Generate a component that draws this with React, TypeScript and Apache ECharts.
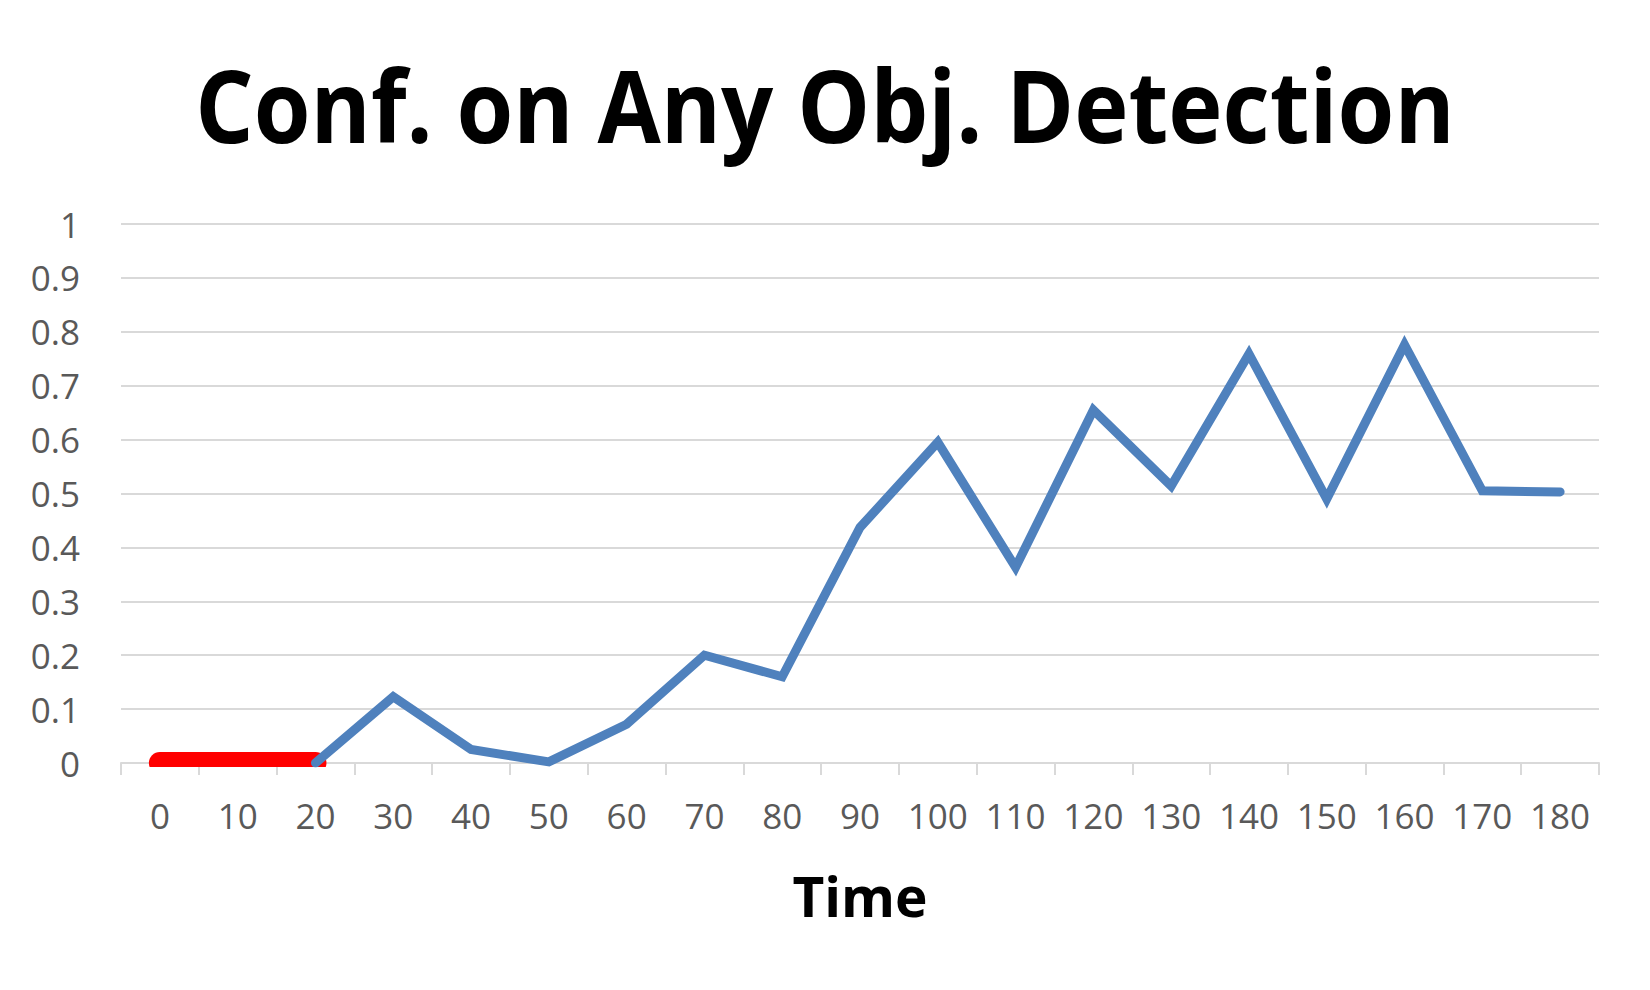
import React, { useEffect, useRef } from "react";
import * as echarts from "echarts";

const titleText = "Conf. on Any Obj. Detection";
const xAxisTitle = "Time";
const timeLabels = ["0", "10", "20", "30", "40", "50", "60", "70", "80", "90", "100", "110", "120", "130", "140", "150", "160", "170", "180"];
const redValues: (number | null)[] = [0, 0, 0, null, null, null, null, null, null, null, null, null, null, null, null, null, null, null, null];
const blueValues: (number | null)[] = [null, null, 0, 0.123, 0.025, 0.002, 0.072, 0.2, 0.16, 0.437, 0.595, 0.363, 0.655, 0.514, 0.759, 0.49, 0.776, 0.505, 0.503];

export default function App() {
  const ref = useRef<HTMLDivElement>(null);
  useEffect(() => {
    document.body.style.margin = "0";
    const chart = echarts.init(ref.current!, null, { renderer: "svg" });
    const font = "'Open Sans', sans-serif";
    chart.setOption({
      animation: false,
      backgroundColor: "#ffffff",
      graphic: [
        {
          type: "text",
          x: 825,
          y: 104,
          scaleX: 0.918,
          originX: 0,
          originY: 0,
          style: {
            text: titleText,
            fontFamily: font,
            fontWeight: "bold",
            fontSize: 100,
            fill: "#000000",
            align: "center",
            verticalAlign: "middle",
          },
        },
      ],
      grid: [
        { left: 121, right: 51, top: 224, bottom: 227, containLabel: false },
        // same plot area, bottom edge lifted so the thick red line is clipped just under the axis
        { left: 121, right: 51, top: 224, bottom: 234, containLabel: false },
      ],
      xAxis: [
        {
          type: "category",
          gridIndex: 0,
          data: timeLabels,
          boundaryGap: true,
          name: xAxisTitle,
          nameLocation: "middle",
          nameGap: 105,
          nameTextStyle: { fontFamily: font, fontWeight: "bold", fontSize: 55, color: "#000000" },
          axisLine: { lineStyle: { color: "#D9D9D9", width: 2 } },
          axisTick: { show: true, interval: 0, length: 12, lineStyle: { color: "#D9D9D9", width: 2 } },
          axisLabel: { interval: 0, margin: 35, fontFamily: font, fontSize: 35, color: "#595959" },
          splitLine: { show: false },
        },
        {
          type: "category",
          gridIndex: 1,
          data: timeLabels,
          boundaryGap: true,
          show: false,
        },
      ],
      yAxis: [
        {
          type: "value",
          gridIndex: 0,
          min: 0,
          max: 1,
          interval: 0.1,
          axisLine: { show: false },
          axisTick: { show: false },
          axisLabel: { margin: 41, fontFamily: font, fontSize: 35, color: "#595959" },
          splitLine: { lineStyle: { color: "#D9D9D9", width: 2 } },
        },
        {
          type: "value",
          gridIndex: 1,
          min: 0.013,
          max: 1,
          show: false,
          splitLine: { show: false },
        },
      ],
      series: [
        {
          type: "line",
          xAxisIndex: 1,
          yAxisIndex: 1,
          data: redValues,
          symbol: "none",
          clip: true,
          lineStyle: { color: "#FF0000", width: 22, cap: "round", join: "round" },
          z: 2,
        },
        {
          type: "line",
          xAxisIndex: 0,
          yAxisIndex: 0,
          data: blueValues,
          symbol: "none",
          lineStyle: { color: "#4F81BD", width: 9, cap: "round", join: "miter" },
          z: 3,
        },
      ],
    });
    return () => chart.dispose();
  }, []);
  return <div ref={ref} style={{ width: 1650, height: 990 }} />;
}
